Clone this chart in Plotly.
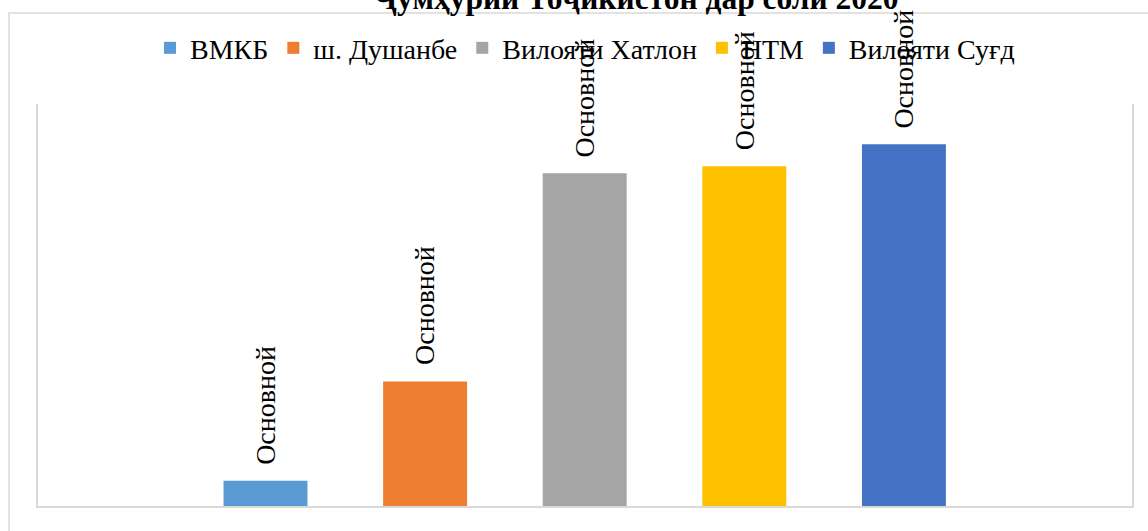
import plotly.graph_objects as go

# Data
series_names = ["ВМКБ", "ш. Душанбе", "Вилояти Хатлон", "НТМ", "Вилояти Суғд"]
values = [25, 124, 331, 338, 360]
label_texts = ["Основной"] * 5
colors = ["#5B9BD5", "#ED7D31", "#A5A5A5", "#FFC000", "#4472C4"]
title_text = "Ҷумҳурии Тоҷикистон дар соли 2020"

FONT = "Liberation Serif, Times New Roman, serif"

fig = go.Figure()
for name, val, col in zip(series_names, values, colors):
    fig.add_trace(go.Bar(
        x=[name], y=[val], name=name,
        marker=dict(color=col, line=dict(width=0)),
        width=0.526, hoverinfo="skip",
    ))

for name, val, txt in zip(series_names, values, label_texts):
    fig.add_annotation(
        x=name, y=val, xref="x", yref="y", text=txt, textangle=-90,
        showarrow=False, yanchor="bottom", xanchor="center", yshift=14,
        font=dict(family=FONT, size=28, color="#000000"),
    )

# Title (partially cut at the top as in the original)
fig.add_annotation(
    x=0.5475, y=1, xref="paper", yref="paper", text="<b>" + title_text + "</b>",
    showarrow=False, xanchor="center", yanchor="bottom", yshift=86,
    font=dict(family=FONT, size=31.5, color="#000000"),
)

# Outer chart area border
fig.add_shape(type="rect", xref="paper", yref="paper",
              x0=-0.0265, x1=1.2, y0=-0.3, y1=1.2264,
              line=dict(color="#D9D9D9", width=1.5), fillcolor="rgba(0,0,0,0)",
              layer="below")

fig.update_layout(
    width=1148, height=531,
    margin=dict(l=38, r=16, t=104, b=25, autoexpand=False),
    paper_bgcolor="#FFFFFF", plot_bgcolor="#FFFFFF",
    barmode="overlay",
    showlegend=True,
    legend=dict(orientation="h", x=0.5, xanchor="center", y=1.139, yanchor="middle",
                font=dict(family=FONT, size=28, color="#000000"),
                bgcolor="rgba(0,0,0,0)", itemclick=False),
    xaxis=dict(categoryorder="array", categoryarray=series_names,
               range=[-1.4254, 5.429], showticklabels=False, ticks="",
               showgrid=False, zeroline=False, showline=True,
               linecolor="#D9D9D9", linewidth=2),
    yaxis=dict(range=[0, 400], showticklabels=False, ticks="", showgrid=False,
               zeroline=False, showline=True, mirror=True,
               linecolor="#D9D9D9", linewidth=2),
    font=dict(family=FONT),
)

fig.write_html("out.html", config={"displayModeBar": False},
               post_script="document.body.style.margin='0';")
